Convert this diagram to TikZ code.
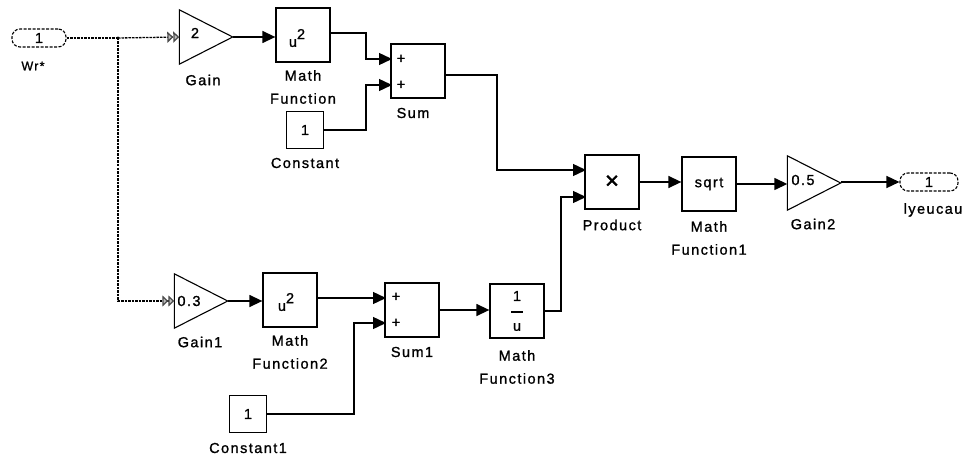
\documentclass[tikz,border=0pt]{standalone}
\usepackage{fontspec}
\setmainfont{Liberation Sans}[LetterSpace=10,FakeBold=1.2]
\usetikzlibrary{arrows.meta,calc}
\begin{document}
\begin{tikzpicture}[x=1pt,y=-1pt,
  blk/.style={draw,line width=1.3pt,inner sep=0,minimum width=#1,minimum height=#1,font=\fontsize{14.5}{16}\selectfont},
  blk/.default=54pt,
  tri/.style={inner sep=0,minimum width=53pt,minimum height=54pt},
  port/.style={draw,dash pattern=on 3pt off 1.5pt,line width=1.1pt,rounded corners=8pt,inner sep=0,minimum width=54pt,minimum height=18pt,font=\fontsize{14.5}{16}\selectfont},
  lbl/.style={font=\fontsize{14.5}{23}\selectfont,align=center,inner sep=0},
  sig/.style={line width=1.4pt,-{Triangle[length=13pt,width=12pt]}},
  dsig/.style={line width=1.3pt,dash pattern=on 2.5pt off 1pt,black},
  garrow/.style={dsig,-{Triangle[length=6pt,width=11pt,color=gray!60!black,fill=gray!50]Triangle[length=6pt,width=11pt,color=gray!60!black,fill=gray!50]}}
]
\useasboundingbox (0,0) rectangle (965,457);

% --- blocks ---
\node[port] (in) at (39,38) {1};
\node[lbl,font=\fontsize{12.5}{14}\selectfont] (inl) at (33,66) {Wr*};

\node[tri] (g) at (206,37) {};
\draw[line width=1.1pt] (g.north west) -- (g.east) -- (g.south west) -- cycle;
\node[lbl] (gt) at (195,33) {2};
\node[lbl] (gl) at (203,80) {Gain};

\node[blk] (mf) at (303,35) {};
\node[lbl] (mft) at (297,38) {u\raisebox{1.0ex}{2}};
\node[lbl] (mfl) at (303,87) {Math\\Function};

\node[blk] (sum) at (418,71) {};
\node[lbl] (sp1) at (401,59) {+};
\node[lbl] (sp2) at (401,85) {+};
\node[lbl] (suml) at (413,113) {Sum};

\node[blk=37pt] (c) at (305,130) {1};
\node[lbl] (cl) at (305,163) {Constant};

\node[tri] (g1) at (201,301) {};
\draw[line width=1.1pt] (g1.north west) -- (g1.east) -- (g1.south west) -- cycle;
\node[lbl] (g1t) at (189,301) {0.3};
\node[lbl] (g1l) at (200,342) {Gain1};

\node[blk] (mf2) at (290,300) {};
\node[lbl] (mf2t) at (286,302) {u\raisebox{1.0ex}{2}};
\node[lbl] (mf2l) at (290,352) {Math\\Function2};

\node[blk] (sum1) at (412,310) {};
\node[lbl] (s1p1) at (396,297) {+};
\node[lbl] (s1p2) at (396,323) {+};
\node[lbl] (sum1l) at (412,352) {Sum1};

\node[blk=37pt] (c1) at (248,414) {1};
\node[lbl] (c1l) at (248,448) {Constant1};

\node[blk] (mf3) at (517,311) {};
\node[lbl] (f1) at (517,296) {1};
\draw[line width=1.1pt] (511,312) -- (523,312);
\node[lbl] (fu) at (517,327) {u};
\node[lbl] (mf3l) at (517,367) {Math\\Function3};

\node[blk,font=\fontsize{24}{24}\selectfont] (prod) at (612,182) {×};
\node[lbl] (prodl) at (612,225) {Product};

\node[blk] (mf1) at (709,184) {sqrt};
\node[lbl] (mf1l) at (709,238) {Math\\Function1};

\node[tri] (g2) at (814,183) {};
\draw[line width=1.1pt] (g2.north west) -- (g2.east) -- (g2.south west) -- cycle;
\node[lbl] (g2t) at (803,180) {0.5};
\node[lbl] (g2l) at (813,224) {Gain2};

\node[port,minimum width=58pt] (out) at (929,182) {1};
\node[lbl] (outl) at (933,210) {lyeucau};

% --- connection points ---
\coordinate (br) at (118,38);
\coordinate (sin1) at (392,59);
\coordinate (sin2) at (392,85);
\coordinate (s1in1) at (386,297);
\coordinate (s1in2) at (386,323);
\coordinate (pin1) at (586,170);
\coordinate (pin2) at (586,197);

% --- connectors ---
\draw[dsig] (in.east) -- (br);
\draw[garrow] (br) -- (g.west);
\draw[garrow] (br) |- (g1.west);
\fill (br) circle (1.5pt);

\draw[sig] (g.east) -- (g.east -| mf.west);
\draw[sig] (mf.east |- 0,33) -| (366,59) -- (sin1);
\draw[sig] (c.east) -| (366,85) -- (sin2);
\draw[sig] (sum.east |- 0,75) -| (497,170) -- (pin1);

\draw[sig] (g1.east) -- (g1.east -| mf2.west);
\draw[sig] (mf2.east |- 0,298) -- (s1in1 |- 0,298);
\draw[sig] (c1.east) -| (354,323) -- (s1in2);
\draw[sig] (sum1.east) -- (sum1.east -| mf3.west);
\draw[sig] (mf3.east) -| (561,197) -- (pin2);

\draw[sig] (prod.east) -- (mf1.west |- prod.east);
\draw[sig] (mf1.east) -- (g2.west |- mf1.east);
\draw[sig] (g2.east |- 0,182) -- (out.west);
\end{tikzpicture}
\end{document}
